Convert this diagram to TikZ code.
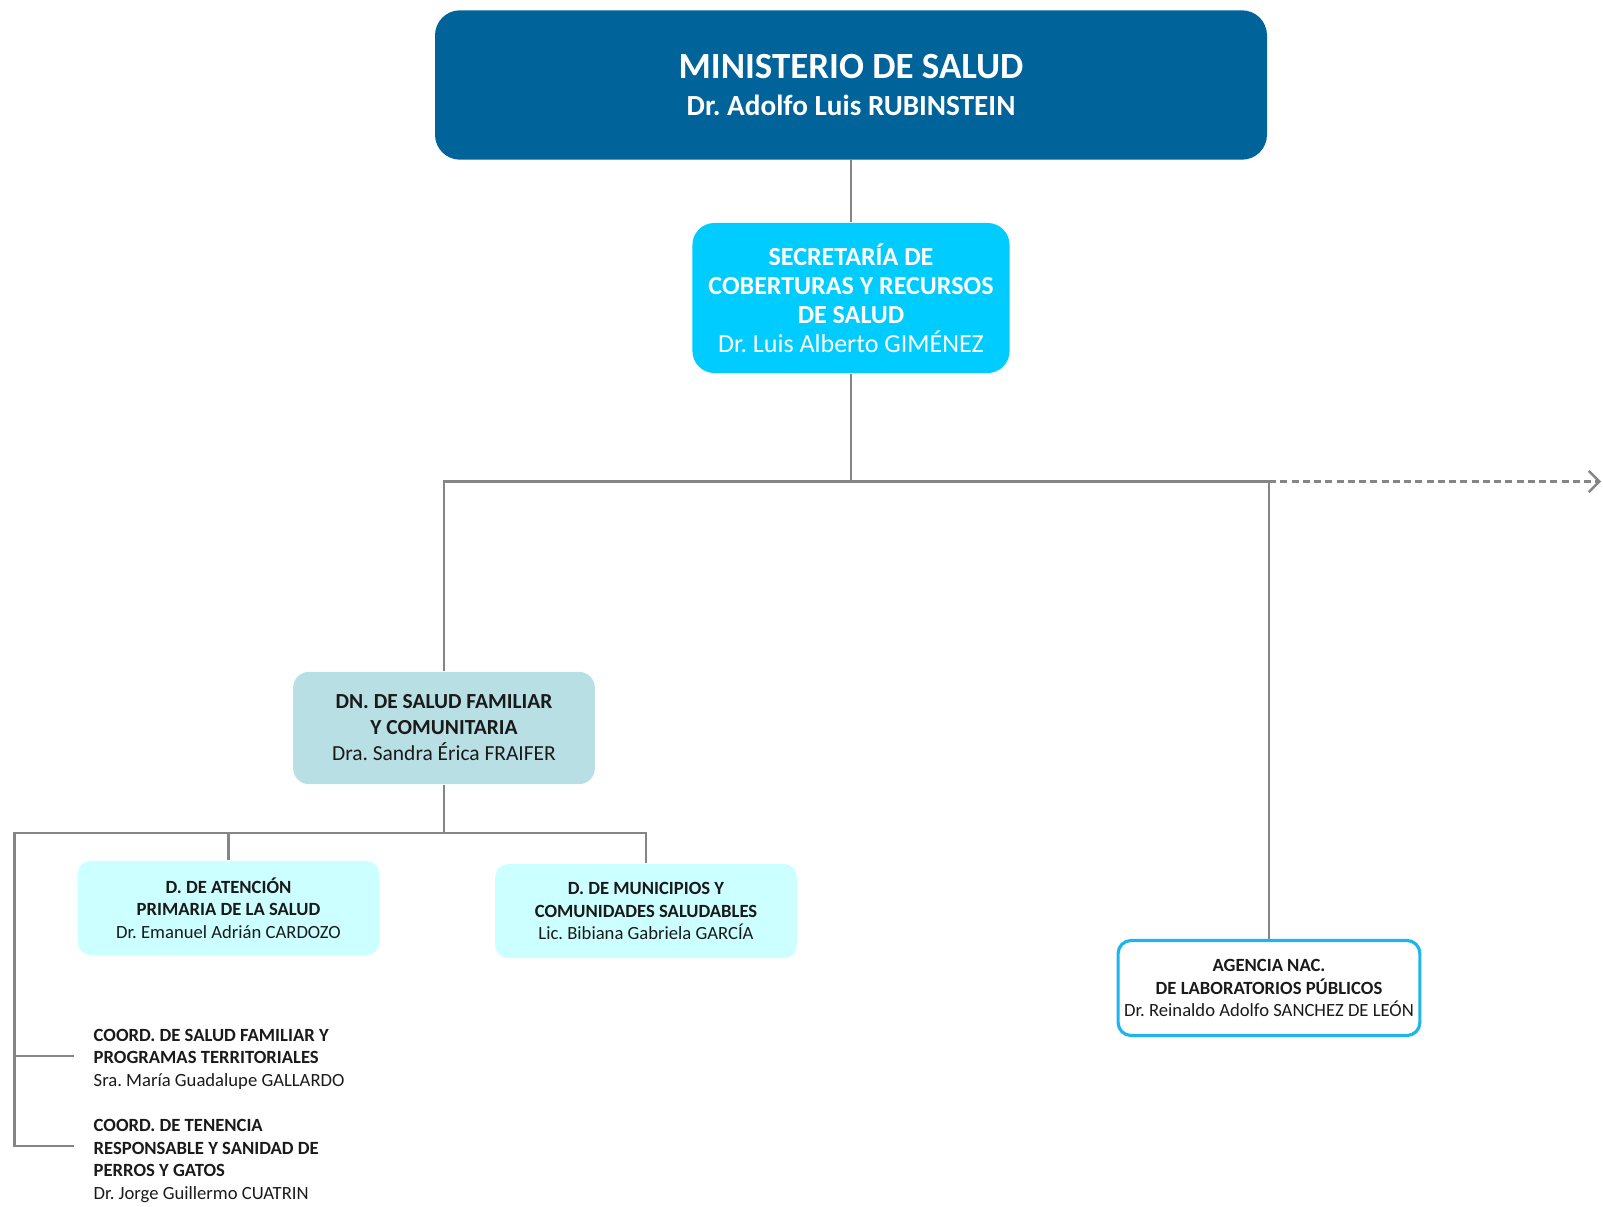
\documentclass[tikz,border=0pt]{standalone}
\usepackage{fontspec}
\setmainfont{Carlito}
\usepackage{tikz}
\usetikzlibrary{arrows.meta,positioning,calc}
\definecolor{minblue}{HTML}{00639A}
\definecolor{seccyan}{HTML}{00CCFF}
\definecolor{dnteal}{HTML}{B7DFE4}
\definecolor{dlight}{HTML}{CCFFFF}
\definecolor{agnedge}{HTML}{1EB4EE}
\definecolor{linegrey}{HTML}{858585}
\definecolor{txtdark}{HTML}{1A1A1A}
\frenchspacing

\begin{document}
\begin{tikzpicture}[x=0.01cm,y=-0.01cm,
  conn/.style={draw=linegrey,line width=0.7pt},
  orgbox/.style={align=center,inner sep=0pt,text=txtdark},
  minbox/.style={orgbox,fill=minblue,text=white,rounded corners=0.25cm,
    minimum width=8.315cm,minimum height=1.493cm,font=\fontsize{8.3}{10.7}\selectfont\bfseries},
  secbox/.style={orgbox,fill=seccyan,text=white,rounded corners=0.22cm,
    minimum width=3.17cm,minimum height=1.5cm,font=\fontsize{7.4}{8.3}\selectfont},
  dnbox/.style={orgbox,fill=dnteal,rounded corners=0.16cm,
    minimum width=3.016cm,minimum height=1.124cm,font=\fontsize{6.1}{7.4}\selectfont},
  dbox/.style={orgbox,fill=dlight,rounded corners=0.13cm,
    minimum width=3.016cm,minimum height=0.94cm,font=\fontsize{5.3}{6.4}\selectfont},
  agbox/.style={orgbox,draw=agnedge,line width=0.9pt,fill=white,rounded corners=0.13cm,
    minimum width=3.016cm,minimum height=0.95cm,font=\fontsize{5.3}{6.4}\selectfont},
  coordtxt/.style={orgbox,align=left,anchor=west,font=\fontsize{5.3}{6.4}\selectfont}]
\useasboundingbox (0,0) rectangle (1603,1206);

\node[minbox] (min) at (851,85) {{\fontsize{10.5}{10.7}\selectfont MINISTERIO DE SALUD}\\Dr. Adolfo Luis RUBINSTEIN};
\node[secbox] (sec) at (851,298) {\textbf{SECRETARÍA DE}\\\textbf{COBERTURAS Y RECURSOS}\\\textbf{DE SALUD}\\Dr. Luis Alberto GIMÉNEZ};
\node[dnbox] (dn) at (444,728) {\textbf{DN. DE SALUD FAMILIAR}\\\textbf{Y COMUNITARIA}\\Dra. Sandra Érica FRAIFER};
\node[agbox] (agn) at (1269,988) {\textbf{AGENCIA NAC.}\\\textbf{DE LABORATORIOS PÚBLICOS}\\Dr. Reinaldo Adolfo SANCHEZ DE LEÓN};
\node[dbox] (atn) at (228.5,908) {\textbf{D. DE ATENCIÓN}\\\textbf{PRIMARIA DE LA SALUD}\\Dr. Emanuel Adrián CARDOZO};
\node[dbox] (mun) at (646,911) {\textbf{D. DE MUNICIPIOS Y}\\\textbf{COMUNIDADES SALUDABLES}\\Lic. Bibiana Gabriela GARCÍA};
\node[coordtxt] (cfam) at (93,1059) {\textbf{COORD. DE SALUD FAMILIAR Y}\\\textbf{PROGRAMAS TERRITORIALES}\\Sra. María Guadalupe GALLARDO};
\node[coordtxt] (cten) at (93,1161) {\textbf{COORD. DE TENENCIA}\\\textbf{RESPONSABLE Y SANIDAD DE}\\\textbf{PERROS Y GATOS}\\Dr. Jorge Guillermo CUATRIN};

\coordinate (bar) at (0,481.5);
\coordinate (sub) at (14.3,833);
\coordinate (out) at (1601,481.5);
\coordinate (fam) at (73.6,1056);
\coordinate (ten) at (73.6,1146);

\draw[conn] (min.south) -- (sec.north);
\draw[conn] (sec.south) -- (sec.south |- bar);
\draw[conn] (dn.north) |- (agn.north |- bar) -- (agn.north);
\draw[conn,dash pattern=on 2pt off 1.2pt,-{Straight Barb[length=3pt,width=6pt]}] (agn.north |- bar) -- (out);
\draw[conn] (dn.south) -- (dn.south |- sub);
\draw[conn] (mun.north) |- (sub) |- (ten);
\draw[conn] (atn.north) -- (atn.north |- sub);
\draw[conn] (sub |- fam) -- (fam);
\end{tikzpicture}
\end{document}
